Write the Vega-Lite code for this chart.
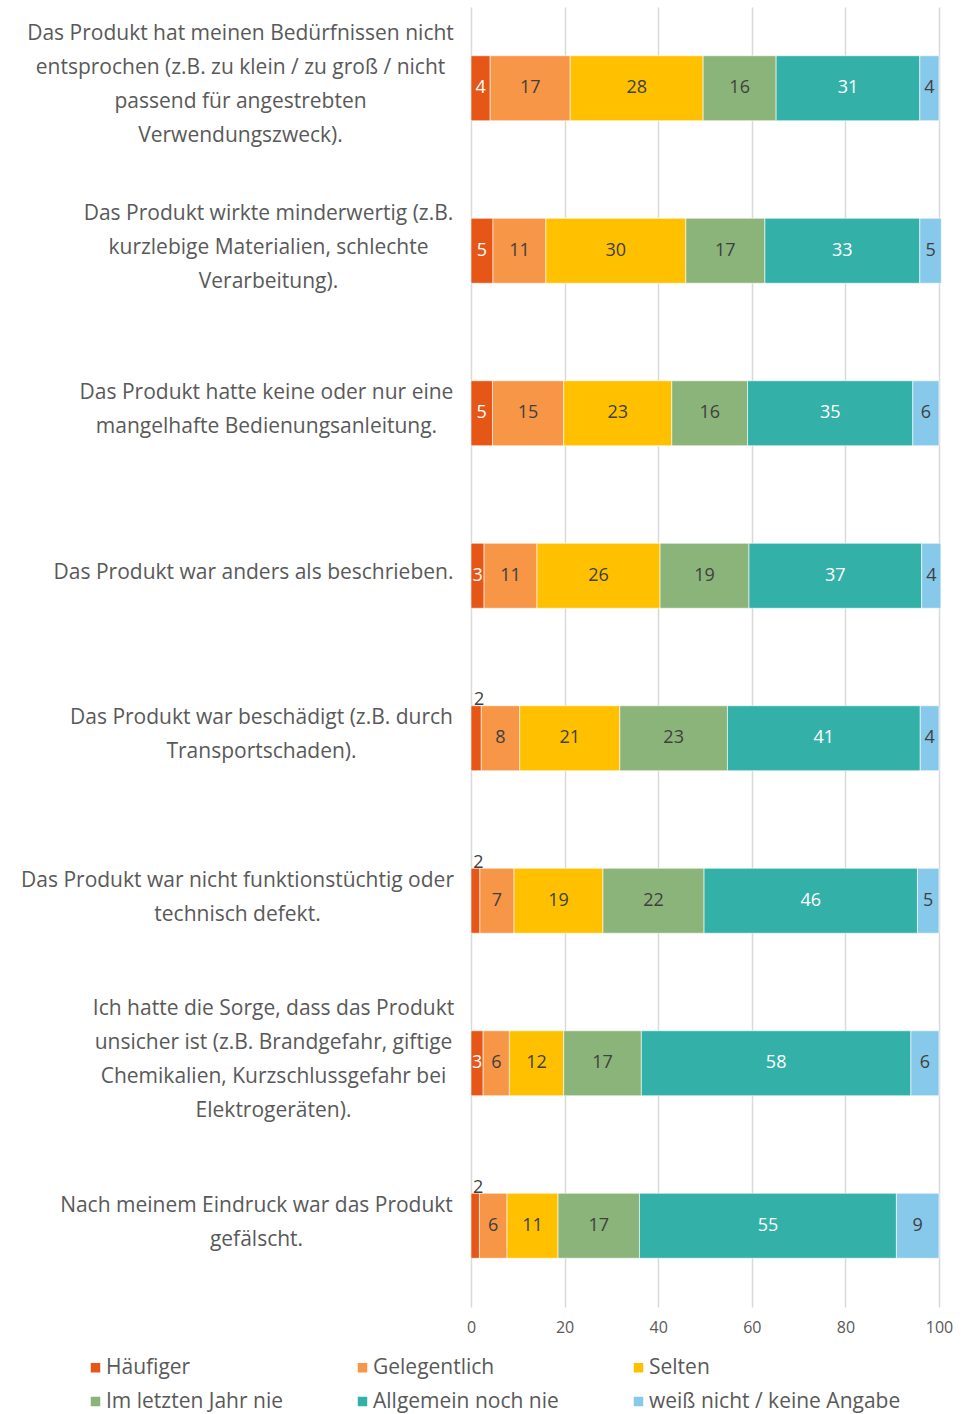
{
  "$schema": "https://vega.github.io/schema/vega-lite/v6.json",
  "width": 468,
  "height": 1300,
  "autosize": {"type": "none"},
  "padding": {"left": 471, "top": 7, "right": 33, "bottom": 107},
  "background": "white",
  "config": {
    "view": {"stroke": null},
    "font": "Open Sans"
  },
  "data": {
    "values": [
      {"item": "Das Produkt hat meinen Bedürfnissen nicht|entsprochen (z.B. zu klein / zu groß / nicht|passend für angestrebten|Verwendungszweck).", "Antwort": "Häufiger", "wert": 4.1},
      {"item": "Das Produkt hat meinen Bedürfnissen nicht|entsprochen (z.B. zu klein / zu groß / nicht|passend für angestrebten|Verwendungszweck).", "Antwort": "Gelegentlich", "wert": 17.1},
      {"item": "Das Produkt hat meinen Bedürfnissen nicht|entsprochen (z.B. zu klein / zu groß / nicht|passend für angestrebten|Verwendungszweck).", "Antwort": "Selten", "wert": 28.4},
      {"item": "Das Produkt hat meinen Bedürfnissen nicht|entsprochen (z.B. zu klein / zu groß / nicht|passend für angestrebten|Verwendungszweck).", "Antwort": "Im letzten Jahr nie", "wert": 15.6},
      {"item": "Das Produkt hat meinen Bedürfnissen nicht|entsprochen (z.B. zu klein / zu groß / nicht|passend für angestrebten|Verwendungszweck).", "Antwort": "Allgemein noch nie", "wert": 30.7},
      {"item": "Das Produkt hat meinen Bedürfnissen nicht|entsprochen (z.B. zu klein / zu groß / nicht|passend für angestrebten|Verwendungszweck).", "Antwort": "weiß nicht / keine Angabe", "wert": 4.1},

      {"item": "Das Produkt wirkte minderwertig (z.B.|kurzlebige Materialien, schlechte|Verarbeitung).", "Antwort": "Häufiger", "wert": 4.7},
      {"item": "Das Produkt wirkte minderwertig (z.B.|kurzlebige Materialien, schlechte|Verarbeitung).", "Antwort": "Gelegentlich", "wert": 11.3},
      {"item": "Das Produkt wirkte minderwertig (z.B.|kurzlebige Materialien, schlechte|Verarbeitung).", "Antwort": "Selten", "wert": 29.9},
      {"item": "Das Produkt wirkte minderwertig (z.B.|kurzlebige Materialien, schlechte|Verarbeitung).", "Antwort": "Im letzten Jahr nie", "wert": 16.9},
      {"item": "Das Produkt wirkte minderwertig (z.B.|kurzlebige Materialien, schlechte|Verarbeitung).", "Antwort": "Allgemein noch nie", "wert": 33.1},
      {"item": "Das Produkt wirkte minderwertig (z.B.|kurzlebige Materialien, schlechte|Verarbeitung).", "Antwort": "weiß nicht / keine Angabe", "wert": 4.6},

      {"item": "Das Produkt hatte keine oder nur eine|mangelhafte Bedienungsanleitung.", "Antwort": "Häufiger", "wert": 4.6},
      {"item": "Das Produkt hatte keine oder nur eine|mangelhafte Bedienungsanleitung.", "Antwort": "Gelegentlich", "wert": 15.2},
      {"item": "Das Produkt hatte keine oder nur eine|mangelhafte Bedienungsanleitung.", "Antwort": "Selten", "wert": 23.1},
      {"item": "Das Produkt hatte keine oder nur eine|mangelhafte Bedienungsanleitung.", "Antwort": "Im letzten Jahr nie", "wert": 16.2},
      {"item": "Das Produkt hatte keine oder nur eine|mangelhafte Bedienungsanleitung.", "Antwort": "Allgemein noch nie", "wert": 35.3},
      {"item": "Das Produkt hatte keine oder nur eine|mangelhafte Bedienungsanleitung.", "Antwort": "weiß nicht / keine Angabe", "wert": 5.6},

      {"item": "Das Produkt war anders als beschrieben.", "Antwort": "Häufiger", "wert": 2.8},
      {"item": "Das Produkt war anders als beschrieben.", "Antwort": "Gelegentlich", "wert": 11.3},
      {"item": "Das Produkt war anders als beschrieben.", "Antwort": "Selten", "wert": 26.3},
      {"item": "Das Produkt war anders als beschrieben.", "Antwort": "Im letzten Jahr nie", "wert": 19.0},
      {"item": "Das Produkt war anders als beschrieben.", "Antwort": "Allgemein noch nie", "wert": 36.9},
      {"item": "Das Produkt war anders als beschrieben.", "Antwort": "weiß nicht / keine Angabe", "wert": 4.1},

      {"item": "Das Produkt war beschädigt (z.B. durch|Transportschaden).", "Antwort": "Häufiger", "wert": 2.2},
      {"item": "Das Produkt war beschädigt (z.B. durch|Transportschaden).", "Antwort": "Gelegentlich", "wert": 8.2},
      {"item": "Das Produkt war beschädigt (z.B. durch|Transportschaden).", "Antwort": "Selten", "wert": 21.4},
      {"item": "Das Produkt war beschädigt (z.B. durch|Transportschaden).", "Antwort": "Im letzten Jahr nie", "wert": 23.0},
      {"item": "Das Produkt war beschädigt (z.B. durch|Transportschaden).", "Antwort": "Allgemein noch nie", "wert": 41.2},
      {"item": "Das Produkt war beschädigt (z.B. durch|Transportschaden).", "Antwort": "weiß nicht / keine Angabe", "wert": 4.0},

      {"item": "Das Produkt war nicht funktionstüchtig oder|technisch defekt.", "Antwort": "Häufiger", "wert": 1.9},
      {"item": "Das Produkt war nicht funktionstüchtig oder|technisch defekt.", "Antwort": "Gelegentlich", "wert": 7.3},
      {"item": "Das Produkt war nicht funktionstüchtig oder|technisch defekt.", "Antwort": "Selten", "wert": 19.0},
      {"item": "Das Produkt war nicht funktionstüchtig oder|technisch defekt.", "Antwort": "Im letzten Jahr nie", "wert": 21.6},
      {"item": "Das Produkt war nicht funktionstüchtig oder|technisch defekt.", "Antwort": "Allgemein noch nie", "wert": 45.6},
      {"item": "Das Produkt war nicht funktionstüchtig oder|technisch defekt.", "Antwort": "weiß nicht / keine Angabe", "wert": 4.6},

      {"item": "Ich hatte die Sorge, dass das Produkt|unsicher ist (z.B. Brandgefahr, giftige|Chemikalien, Kurzschlussgefahr bei|Elektrogeräten).", "Antwort": "Häufiger", "wert": 2.6},
      {"item": "Ich hatte die Sorge, dass das Produkt|unsicher ist (z.B. Brandgefahr, giftige|Chemikalien, Kurzschlussgefahr bei|Elektrogeräten).", "Antwort": "Gelegentlich", "wert": 5.6},
      {"item": "Ich hatte die Sorge, dass das Produkt|unsicher ist (z.B. Brandgefahr, giftige|Chemikalien, Kurzschlussgefahr bei|Elektrogeräten).", "Antwort": "Selten", "wert": 11.6},
      {"item": "Ich hatte die Sorge, dass das Produkt|unsicher ist (z.B. Brandgefahr, giftige|Chemikalien, Kurzschlussgefahr bei|Elektrogeräten).", "Antwort": "Im letzten Jahr nie", "wert": 16.6},
      {"item": "Ich hatte die Sorge, dass das Produkt|unsicher ist (z.B. Brandgefahr, giftige|Chemikalien, Kurzschlussgefahr bei|Elektrogeräten).", "Antwort": "Allgemein noch nie", "wert": 57.6},
      {"item": "Ich hatte die Sorge, dass das Produkt|unsicher ist (z.B. Brandgefahr, giftige|Chemikalien, Kurzschlussgefahr bei|Elektrogeräten).", "Antwort": "weiß nicht / keine Angabe", "wert": 6.0},

      {"item": "Nach meinem Eindruck war das Produkt|gefälscht.", "Antwort": "Häufiger", "wert": 1.8},
      {"item": "Nach meinem Eindruck war das Produkt|gefälscht.", "Antwort": "Gelegentlich", "wert": 5.9},
      {"item": "Nach meinem Eindruck war das Produkt|gefälscht.", "Antwort": "Selten", "wert": 10.9},
      {"item": "Nach meinem Eindruck war das Produkt|gefälscht.", "Antwort": "Im letzten Jahr nie", "wert": 17.4},
      {"item": "Nach meinem Eindruck war das Produkt|gefälscht.", "Antwort": "Allgemein noch nie", "wert": 54.9},
      {"item": "Nach meinem Eindruck war das Produkt|gefälscht.", "Antwort": "weiß nicht / keine Angabe", "wert": 9.1}
    ]
  },
  "transform": [
    {"calculate": "indexof(['Häufiger','Gelegentlich','Selten','Im letzten Jahr nie','Allgemein noch nie','weiß nicht / keine Angabe'], datum.Antwort)", "as": "ord"},
    {"stack": "wert", "groupby": ["item"], "sort": [{"field": "ord", "order": "ascending"}], "as": ["x0", "x1"]},
    {"calculate": "(datum.x0 + datum.x1) / 2", "as": "xm"}
  ],
  "encoding": {
    "y": {
      "field": "item",
      "type": "nominal",
      "sort": null,
      "scale": {"paddingInner": 0.6, "paddingOuter": 0.3},
      "axis": {
        "title": null,
        "domain": false,
        "ticks": false,
        "labelExpr": "split(datum.label, '|')",
        "labelAlign": "center",
        "labelBaseline": "middle",
        "labelPadding": {
          "condition": [
            {"test": "indexof(datum.label, 'Das Produkt hat meinen') === 0", "value": 231},
            {"test": "indexof(datum.label, 'Das Produkt wirkte') === 0", "value": 203},
            {"test": "indexof(datum.label, 'Das Produkt hatte') === 0", "value": 205},
            {"test": "indexof(datum.label, 'Das Produkt war anders') === 0", "value": 218},
            {"test": "indexof(datum.label, 'Das Produkt war beschä') === 0", "value": 210},
            {"test": "indexof(datum.label, 'Das Produkt war nicht') === 0", "value": 234},
            {"test": "indexof(datum.label, 'Ich hatte') === 0", "value": 198},
            {"test": "indexof(datum.label, 'Nach meinem') === 0", "value": 215}
          ],
          "value": 210
        },
        "labelOffset": {"condition": {"test": "true", "expr": "-(length(split(datum.label, '|')) - 1) * 17 - 3"}, "value": 0},
        "labelFont": "Open Sans",
        "labelFontSize": 21,
        "labelLineHeight": 34,
        "labelColor": "#595959",
        "labelLimit": 600
      }
    }
  },
  "layer": [
    {
      "mark": {"type": "bar", "stroke": "white", "strokeWidth": 0.6},
      "encoding": {
        "x": {
          "field": "x0",
          "type": "quantitative",
          "scale": {"domain": [0, 100], "nice": false},
          "axis": {
            "title": null,
            "values": [0, 20, 40, 60, 80, 100],
            "domain": false,
            "ticks": false,
            "grid": true,
            "gridColor": "#d9d9d9",
            "gridWidth": 1.5,
            "labelFlush": false,
            "labelFont": "Open Sans",
            "labelFontSize": 16,
            "labelColor": "#595959",
            "labelPadding": 12
          }
        },
        "x2": {"field": "x1"},
        "color": {
          "field": "Antwort",
          "type": "nominal",
          "scale": {
            "domain": ["Häufiger", "Gelegentlich", "Selten", "Im letzten Jahr nie", "Allgemein noch nie", "weiß nicht / keine Angabe"],
            "range": ["#E55617", "#F79646", "#FFC000", "#8BB47A", "#33B1A9", "#87C9EB"]
          },
          "legend": {
            "title": null,
            "orient": "none",
            "legendX": -386,
            "legendY": 1350,
            "direction": "horizontal",
            "columns": 3,
            "columnPadding": 69,
            "rowPadding": 12,
            "symbolType": "square",
            "symbolSize": 90,
            "symbolStrokeWidth": 0,
            "labelFont": "Open Sans",
            "labelFontSize": 21,
            "labelColor": "#595959",
            "labelOffset": 0,
            "labelLimit": 400
          }
        }
      }
    },
    {
      "transform": [{"filter": "datum.wert >= 2.5"}],
      "mark": {"type": "text", "fontSize": 18, "font": "Open Sans", "baseline": "middle"},
      "encoding": {
        "x": {"field": "xm", "type": "quantitative"},
        "text": {"field": "wert", "type": "quantitative", "format": ".0f"},
        "color": {
          "condition": {"test": "datum.Antwort === 'Häufiger' || datum.Antwort === 'Allgemein noch nie'", "value": "white"},
          "value": "#404040"
        }
      }
    },
    {
      "transform": [{"filter": "datum.wert < 2.5"}],
      "mark": {"type": "text", "fontSize": 18, "font": "Open Sans", "baseline": "middle", "dy": -38, "dx": 3, "color": "#404040"},
      "encoding": {
        "x": {"field": "xm", "type": "quantitative"},
        "text": {"field": "wert", "type": "quantitative", "format": ".0f"}
      }
    }
  ]
}
